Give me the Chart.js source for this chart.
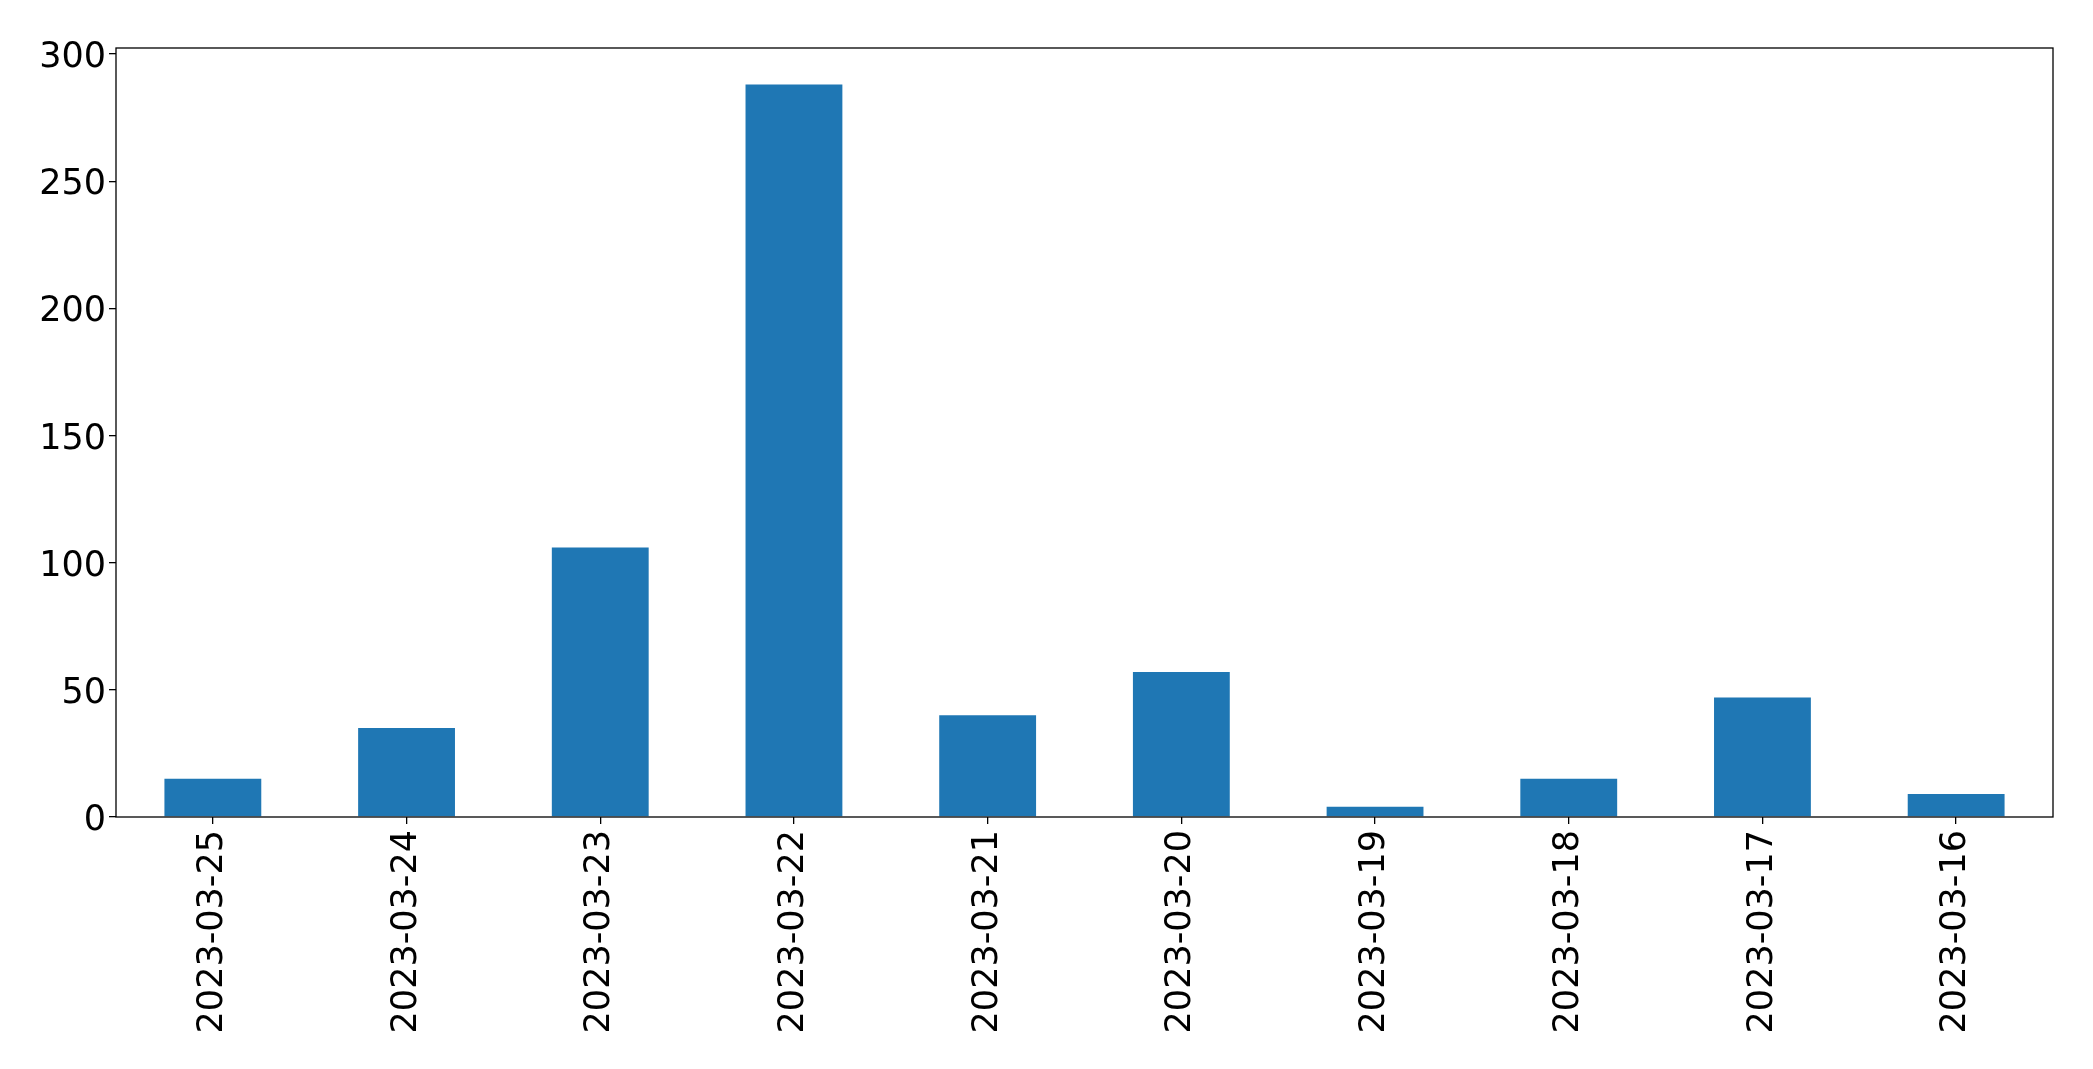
<!DOCTYPE html>
<html>
<head>
<meta charset="utf-8">
<script src="https://cdn.jsdelivr.net/npm/chart.js@4"></script>
<style>
  html, body { margin: 0; padding: 0; background: #fff; }
  #wrap { width: 2093px; height: 1069px; }
</style>
</head>
<body>
<div id="wrap"><canvas id="chart" width="2093" height="1069"></canvas></div>
<script>
// Data
const dates = ['2023-03-25', '2023-03-24', '2023-03-23', '2023-03-22', '2023-03-21',
               '2023-03-20', '2023-03-19', '2023-03-18', '2023-03-17', '2023-03-16'];
const counts = [15, 35, 106, 288, 40, 57, 4, 15, 47, 9];
const yTicks = [0, 50, 100, 150, 200, 250, 300];

const FONT = { family: 'DejaVu Sans', size: 35 };

// matplotlib-style frame around the plot area
const framePlugin = {
    id: 'frame',
    afterDraw(chart) {
        const { ctx, chartArea: a } = chart;
        ctx.save();
        ctx.strokeStyle = '#000';
        ctx.lineWidth = 1.3;
        ctx.strokeRect(a.left, a.top, a.right - a.left, a.bottom - a.top);
        ctx.restore();
    }
};

new Chart(document.getElementById('chart'), {
    type: 'bar',
    data: {
        labels: dates,
        datasets: [{
            data: counts,
            backgroundColor: '#1f77b4',
            borderWidth: 0,
            categoryPercentage: 1.0,
            barPercentage: 0.5
        }]
    },
    options: {
        responsive: false,
        animation: false,
        layout: { padding: { top: 48, right: 40, left: 0, bottom: 0 } },
        plugins: { legend: { display: false }, tooltip: { enabled: false } },
        scales: {
            x: {
                grid: { drawOnChartArea: false, offset: false, tickLength: 7, color: '#000', lineWidth: 1.3 },
                border: { display: false },
                ticks: {
                    color: '#000',
                    font: FONT,
                    maxRotation: 90,
                    minRotation: 90,
                    padding: 6,
                    autoSkip: false
                },
                afterFit(scale) { scale.height = 252; }
            },
            y: {
                min: 0,
                max: 302.4,
                grid: { drawOnChartArea: false, tickLength: 7, color: '#000', lineWidth: 1.3 },
                border: { display: false },
                ticks: { color: '#000', font: FONT, padding: 3, labelOffset: 4 },
                afterBuildTicks(scale) {
                    scale.ticks = yTicks.map(v => ({ value: v }));
                },
                afterFit(scale) { scale.width = 116; }
            }
        }
    },
    plugins: [framePlugin]
});
</script>
</body>
</html>
